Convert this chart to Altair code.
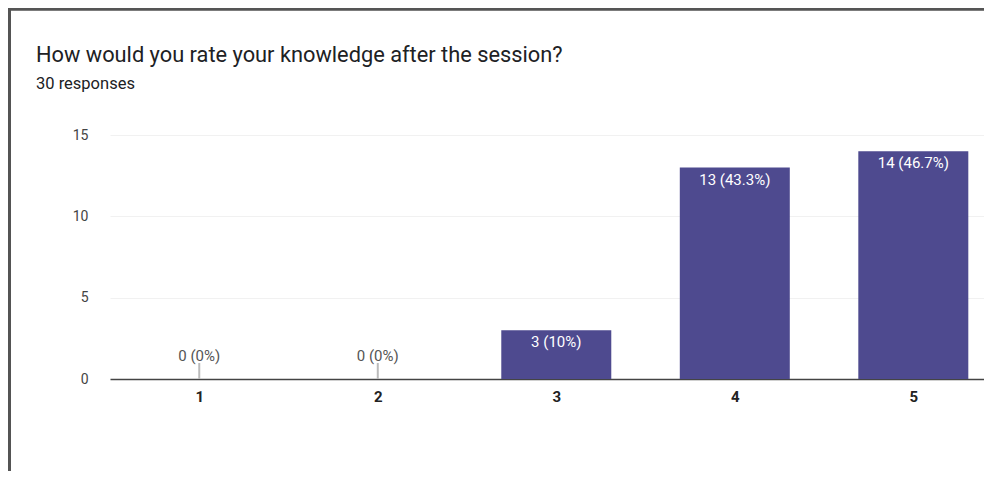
import altair as alt
import pandas as pd

ratings = [1, 2, 3, 4, 5]
counts = [0, 0, 3, 13, 14]
total_responses = 30
title_text = "How would you rate your knowledge after the session?"
subtitle_text = "30 responses"
y_ticks = [0, 5, 10, 15]


def fmt_pct(c):
    p = round(100 * c / total_responses, 1)
    s = f"{p:.1f}".rstrip("0").rstrip(".")
    return f"{c} ({s}%)"


df = pd.DataFrame({
    "rating": ratings,
    "count": counts,
    "label": [fmt_pct(c) for c in counts],
})

FONT = "Roboto"
BAR = "#4e4a8f"

x = alt.X("rating:Q",
          scale=alt.Scale(domain=[0.5, 5.396], nice=False, zero=False, padding=0),
          axis=alt.Axis(values=ratings, format="d", title=None, ticks=False,
                        grid=False, labelPadding=10, labelFontSize=15,
                        labelFontWeight="bold", labelColor="#222222",
                        domainColor="#444444", domainWidth=1.5, labelFont=FONT))
y = alt.Y("count:Q",
          scale=alt.Scale(domain=[0, 15], nice=False),
          axis=alt.Axis(values=y_ticks, title=None, ticks=False, domain=False,
                        labelPadding=22, labelFontSize=14, labelColor="#444444",
                        gridColor="#f1f1f1", labelFont=FONT))

base = alt.Chart(df)

bars = base.mark_bar(size=110, color=BAR).encode(x=x, y=y)

inside = base.transform_filter("datum.count > 0").mark_text(
    baseline="alphabetic", dy=17, color="#ffffff", fontSize=15, font=FONT
).encode(x="rating:Q", y="count:Q", text="label:N")

zero_lbl = base.transform_filter("datum.count == 0").mark_text(
    baseline="alphabetic", dy=-18, color="#555555", fontSize=15, font=FONT
).encode(x="rating:Q", y="count:Q", text="label:N")

stem = base.transform_filter("datum.count == 0").mark_rule(
    color="#bbbbbb", strokeWidth=2, y2Offset=-16
).encode(x="rating:Q", y="count:Q", y2="count:Q")

frame_left = alt.Chart(df).mark_rule(color="#555555", strokeWidth=2.5).encode(
    x=alt.value(-100.5), y=alt.value(-127), y2=alt.value(336))
frame_top = alt.Chart(df).mark_rule(color="#555555", strokeWidth=2.5).encode(
    x=alt.value(-101), x2=alt.value(874), y=alt.value(-126))

chart = alt.layer(bars, stem, zero_lbl, inside, frame_left, frame_top).properties(
    width=874, height=244,
    padding={"left": 102, "top": 127, "right": 0, "bottom": 92},
    autosize=alt.AutoSizeParams(type="none"),
    title=alt.TitleParams(
        text=title_text, subtitle=subtitle_text, anchor="start", frame="group",
        dx=-74, dy=86, offset=0, font=FONT, fontSize=21.8, fontWeight="normal",
        color="#202124", subtitleFont=FONT, subtitleFontSize=16.5,
        subtitleColor="#202124", subtitlePadding=9),
).configure_view(stroke=None)

chart.save("out.html", embed_options={"renderer": "svg", "actions": False})
